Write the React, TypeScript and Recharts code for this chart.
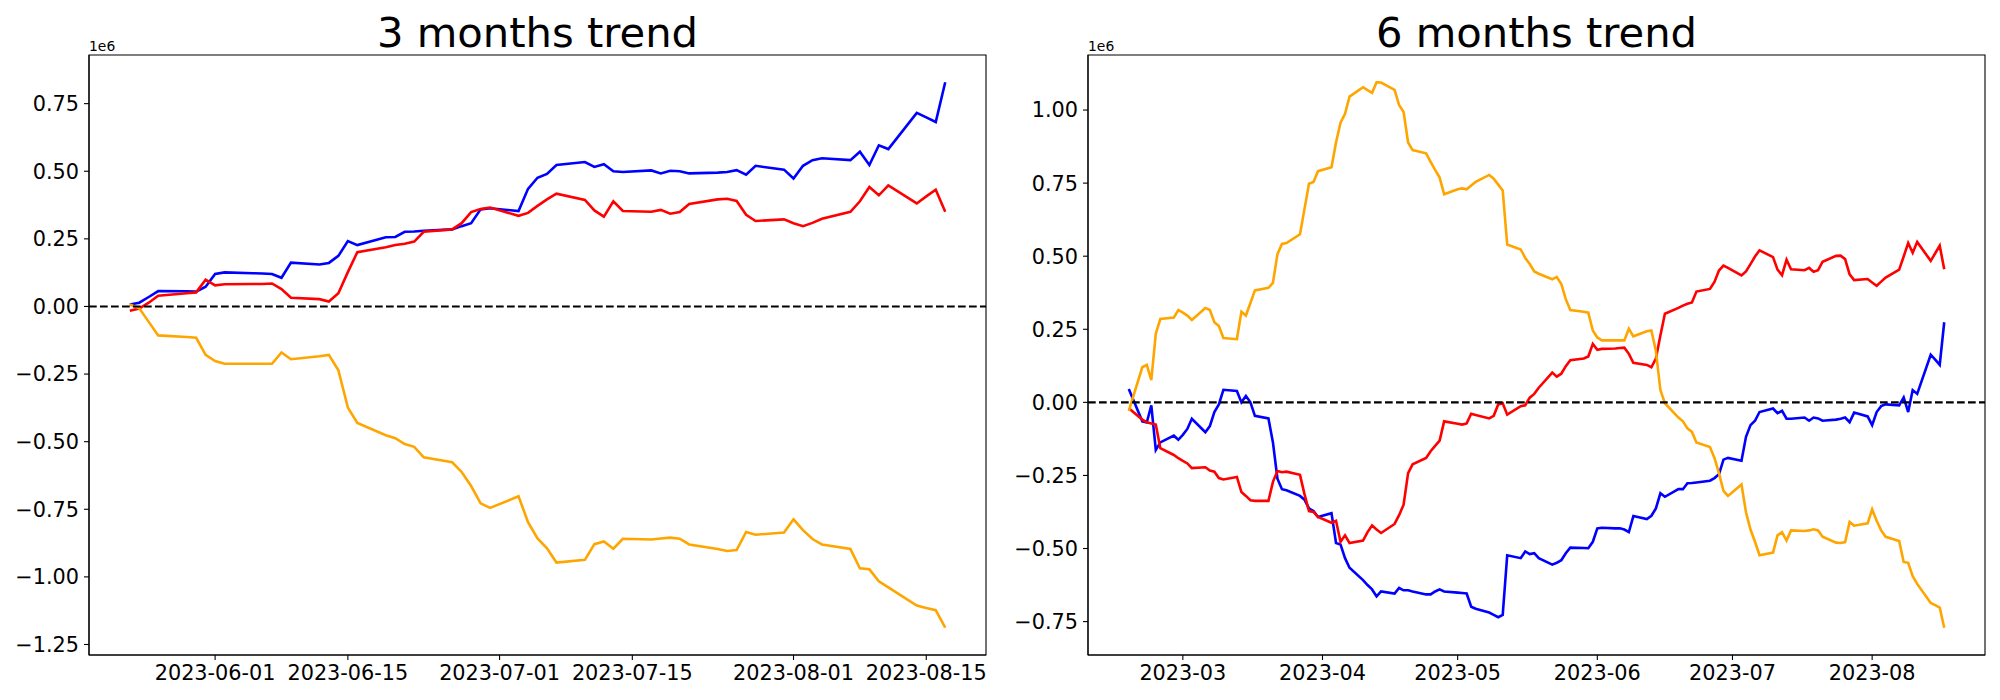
import React from 'react';
import { LineChart, Line, XAxis, YAxis, ReferenceLine, ReferenceArea } from 'recharts';

// ---------- 3 months panel ----------
const dates3m = [
  '2023-05-23','2023-05-24','2023-05-25','2023-05-26',
  '2023-05-29','2023-05-30','2023-05-31','2023-06-01','2023-06-02',
  '2023-06-05','2023-06-06','2023-06-07','2023-06-08','2023-06-09',
  '2023-06-12','2023-06-13','2023-06-14','2023-06-15','2023-06-16',
  '2023-06-19','2023-06-20','2023-06-21','2023-06-22','2023-06-23',
  '2023-06-26','2023-06-27','2023-06-28','2023-06-29','2023-06-30',
  '2023-07-03','2023-07-04','2023-07-05','2023-07-06','2023-07-07',
  '2023-07-10','2023-07-11','2023-07-12','2023-07-13','2023-07-14',
  '2023-07-17','2023-07-18','2023-07-19','2023-07-20','2023-07-21',
  '2023-07-24','2023-07-25','2023-07-26','2023-07-27','2023-07-28',
  '2023-07-31','2023-08-01','2023-08-02','2023-08-03','2023-08-04',
  '2023-08-07','2023-08-08','2023-08-09','2023-08-10','2023-08-11',
  '2023-08-14','2023-08-15','2023-08-16','2023-08-17',
];
const blue3m = [
  0.007, 0.014, 0.035, 0.057,
  0.056, 0.055, 0.073, 0.120, 0.126,
  0.123, 0.122, 0.120, 0.106, 0.162,
  0.155, 0.161, 0.187, 0.242, 0.227,
  0.256, 0.257, 0.276, 0.277, 0.280,
  0.285, 0.297, 0.308, 0.359, 0.363,
  0.353, 0.435, 0.476, 0.490, 0.523,
  0.534, 0.516, 0.526, 0.500, 0.497,
  0.503, 0.492, 0.502, 0.500, 0.492,
  0.495, 0.497, 0.504, 0.487, 0.520,
  0.506, 0.473, 0.520, 0.541, 0.548,
  0.541, 0.572, 0.523, 0.596, 0.582,
  0.716, 0.699, 0.682, 0.829,
];
const red3m = [
  -0.016, -0.008, 0.014, 0.040,
  0.049, 0.052, 0.099, 0.078, 0.082,
  0.083, 0.083, 0.085, 0.064, 0.032,
  0.027, 0.018, 0.049, 0.127, 0.201,
  0.219, 0.227, 0.232, 0.240, 0.276,
  0.285, 0.308, 0.349, 0.360, 0.366,
  0.335, 0.346, 0.372, 0.396, 0.417,
  0.394, 0.355, 0.332, 0.389, 0.353,
  0.350, 0.357, 0.343, 0.349, 0.379,
  0.396, 0.398, 0.390, 0.339, 0.316,
  0.322, 0.308, 0.297, 0.309, 0.324,
  0.350, 0.389, 0.442, 0.411, 0.448,
  0.381, 0.407, 0.432, 0.350,
];
const orange3m = [
  0.007, -0.007, -0.057, -0.107,
  -0.113, -0.116, -0.179, -0.202, -0.212,
  -0.212, -0.212, -0.212, -0.170, -0.195,
  -0.184, -0.179, -0.236, -0.374, -0.431,
  -0.476, -0.487, -0.509, -0.519, -0.558,
  -0.576, -0.612, -0.664, -0.728, -0.745,
  -0.702, -0.798, -0.858, -0.894, -0.947,
  -0.937, -0.879, -0.869, -0.896, -0.859,
  -0.862, -0.858, -0.855, -0.859, -0.880,
  -0.897, -0.904, -0.901, -0.834, -0.844,
  -0.836, -0.787, -0.827, -0.860, -0.880,
  -0.897, -0.968, -0.972, -1.016, -1.039,
  -1.106, -1.115, -1.123, -1.188,
];
const xTickLabels3m = ['2023-06-01', '2023-06-15', '2023-07-01', '2023-07-15', '2023-08-01', '2023-08-15'];
const yTicks3m = [-1.25, -1.0, -0.75, -0.5, -0.25, 0, 0.25, 0.5, 0.75];

// ---------- 6 months panel ----------
const dates6m = [
  '2023-02-17',
  '2023-02-20','2023-02-21','2023-02-22','2023-02-23','2023-02-24',
  '2023-02-27','2023-02-28','2023-03-01','2023-03-02','2023-03-03',
  '2023-03-06','2023-03-07','2023-03-08','2023-03-09','2023-03-10',
  '2023-03-13','2023-03-14','2023-03-15','2023-03-16','2023-03-17',
  '2023-03-20','2023-03-21','2023-03-22','2023-03-23','2023-03-24',
  '2023-03-27','2023-03-28','2023-03-29','2023-03-30','2023-03-31',
  '2023-04-03','2023-04-04','2023-04-05','2023-04-06','2023-04-07',
  '2023-04-10','2023-04-11','2023-04-12','2023-04-13','2023-04-14',
  '2023-04-17','2023-04-18','2023-04-19','2023-04-20','2023-04-21',
  '2023-04-24','2023-04-25','2023-04-26','2023-04-27','2023-04-28',
  '2023-05-01','2023-05-02','2023-05-03','2023-05-04','2023-05-05',
  '2023-05-08','2023-05-09','2023-05-10','2023-05-11','2023-05-12',
  '2023-05-15','2023-05-16','2023-05-17','2023-05-18','2023-05-19',
  '2023-05-22','2023-05-23','2023-05-24','2023-05-25','2023-05-26',
  '2023-05-29','2023-05-30','2023-05-31','2023-06-01','2023-06-02',
  '2023-06-05','2023-06-06','2023-06-07','2023-06-08','2023-06-09',
  '2023-06-12','2023-06-13','2023-06-14','2023-06-15','2023-06-16',
  '2023-06-19','2023-06-20','2023-06-21','2023-06-22','2023-06-23',
  '2023-06-26','2023-06-27','2023-06-28','2023-06-29','2023-06-30',
  '2023-07-03','2023-07-04','2023-07-05','2023-07-06','2023-07-07',
  '2023-07-10','2023-07-11','2023-07-12','2023-07-13','2023-07-14',
  '2023-07-17','2023-07-18','2023-07-19','2023-07-20','2023-07-21',
  '2023-07-24','2023-07-25','2023-07-26','2023-07-27','2023-07-28',
  '2023-07-31','2023-08-01','2023-08-02','2023-08-03','2023-08-04',
  '2023-08-07','2023-08-08','2023-08-09','2023-08-10','2023-08-11',
  '2023-08-14','2023-08-15','2023-08-16','2023-08-17',
];
const blue6m = [
  0.046,
  -0.065, -0.069, -0.010, -0.163, -0.137,
  -0.114, -0.128, -0.111, -0.091, -0.056,
  -0.102, -0.081, -0.033, -0.007, 0.043,
  0.039, 0.000, 0.022, 0.000, -0.046,
  -0.055, -0.137, -0.261, -0.297, -0.301,
  -0.320, -0.333, -0.363, -0.372, -0.392,
  -0.379, -0.481, -0.486, -0.533, -0.566,
  -0.608, -0.625, -0.640, -0.664, -0.647,
  -0.654, -0.635, -0.643, -0.643, -0.647,
  -0.657, -0.657, -0.647, -0.640, -0.647,
  -0.651, -0.652, -0.654, -0.699, -0.706,
  -0.719, -0.727, -0.735, -0.727, -0.523,
  -0.533, -0.510, -0.519, -0.516, -0.533,
  -0.555, -0.549, -0.540, -0.516, -0.497,
  -0.498, -0.499, -0.477, -0.431, -0.429,
  -0.431, -0.431, -0.435, -0.444, -0.389,
  -0.399, -0.388, -0.363, -0.311, -0.323,
  -0.297, -0.297, -0.277, -0.276, -0.274,
  -0.268, -0.259, -0.246, -0.196, -0.190,
  -0.200, -0.118, -0.078, -0.063, -0.033,
  -0.021, -0.037, -0.029, -0.056, -0.056,
  -0.052, -0.063, -0.052, -0.055, -0.063,
  -0.059, -0.056, -0.052, -0.068, -0.035,
  -0.048, -0.078, -0.033, -0.013, -0.007,
  -0.010, 0.017, -0.033, 0.042, 0.029,
  0.163, 0.146, 0.128, 0.274,
];
const red6m = [
  -0.020,
  -0.059, -0.068, -0.072, -0.076, -0.157,
  -0.180, -0.191, -0.200, -0.209, -0.225,
  -0.222, -0.233, -0.237, -0.259, -0.264,
  -0.255, -0.307, -0.320, -0.335, -0.337,
  -0.337, -0.272, -0.235, -0.239, -0.237,
  -0.248, -0.314, -0.372, -0.375, -0.392,
  -0.412, -0.405, -0.477, -0.455, -0.481,
  -0.473, -0.444, -0.421, -0.435, -0.447,
  -0.416, -0.386, -0.350, -0.242, -0.212,
  -0.190, -0.167, -0.149, -0.131, -0.065,
  -0.073, -0.076, -0.072, -0.039, -0.043,
  -0.055, -0.046, -0.007, -0.003, -0.042,
  -0.013, -0.010, 0.016, 0.029, 0.050,
  0.102, 0.088, 0.098, 0.124, 0.144,
  0.150, 0.157, 0.200, 0.180, 0.183,
  0.184, 0.186, 0.187, 0.166, 0.135,
  0.128, 0.120, 0.150, 0.229, 0.303,
  0.323, 0.331, 0.337, 0.342, 0.379,
  0.388, 0.412, 0.451, 0.468, 0.460,
  0.434, 0.448, 0.473, 0.499, 0.520,
  0.497, 0.454, 0.435, 0.488, 0.455,
  0.452, 0.460, 0.447, 0.452, 0.481,
  0.501, 0.502, 0.490, 0.438, 0.418,
  0.422, 0.410, 0.399, 0.413, 0.427,
  0.454, 0.499, 0.545, 0.512, 0.549,
  0.484, 0.510, 0.536, 0.455,
];
const orange6m = [
  -0.029,
  0.120, 0.128, 0.076, 0.235, 0.285,
  0.290, 0.316, 0.307, 0.297, 0.282,
  0.323, 0.316, 0.274, 0.261, 0.220,
  0.216, 0.310, 0.297, 0.340, 0.383,
  0.392, 0.409, 0.507, 0.542, 0.545,
  0.575, 0.661, 0.748, 0.754, 0.791,
  0.804, 0.889, 0.957, 0.987, 1.046,
  1.078, 1.068, 1.059, 1.095, 1.094,
  1.069, 1.017, 0.993, 0.889, 0.863,
  0.852, 0.823, 0.795, 0.769, 0.712,
  0.729, 0.732, 0.729, 0.742, 0.754,
  0.778, 0.765, 0.745, 0.725, 0.540,
  0.523, 0.494, 0.473, 0.448, 0.440,
  0.421, 0.429, 0.405, 0.353, 0.316,
  0.310, 0.307, 0.246, 0.222, 0.212,
  0.212, 0.212, 0.212, 0.252, 0.226,
  0.243, 0.246, 0.176, 0.042, -0.003,
  -0.052, -0.065, -0.089, -0.101, -0.137,
  -0.153, -0.190, -0.242, -0.303, -0.320,
  -0.281, -0.376, -0.435, -0.477, -0.523,
  -0.514, -0.455, -0.444, -0.473, -0.438,
  -0.440, -0.438, -0.434, -0.438, -0.460,
  -0.480, -0.481, -0.478, -0.409, -0.422,
  -0.414, -0.366, -0.405, -0.438, -0.460,
  -0.474, -0.546, -0.549, -0.595, -0.621,
  -0.686, -0.694, -0.702, -0.771,
];
const xTickLabels6m = ['2023-03-01', '2023-04-01', '2023-05-01', '2023-06-01', '2023-07-01', '2023-08-01'];
const yTicks6m = [-0.75, -0.5, -0.25, 0, 0.25, 0.5, 0.75, 1.0];

// ---------- helpers ----------
const FONT = 'DejaVu Sans';
const DAY = 86400000;
const toDay = (s: string) => Date.parse(s + 'T00:00:00Z') / DAY;
const fmtY = (v: number) => {
  const s = Math.abs(v).toFixed(2);
  return v < -1e-9 ? '\u2212' + s : s;
};
const fmtDate = (n: number) => new Date(Math.round(n) * DAY).toISOString().slice(0, 10);
const fmtMonth = (n: number) => new Date(Math.round(n) * DAY).toISOString().slice(0, 7);

function padded(vals: number[]): [number, number] {
  const mn = Math.min(...vals);
  const mx = Math.max(...vals);
  const r = mx - mn;
  return [mn - 0.05 * r, mx + 0.05 * r];
}

type PanelProps = {
  dates: string[];
  blue: number[];
  red: number[];
  orange: number[];
  xTickLabels: string[];
  xFmt: (n: number) => string;
  yTicks: number[];
  yAxisWidth: number;
  marginRight: number;
};

const LW = 2.6;

function Panel(p: PanelProps) {
  const data = p.dates.map((d, i) => ({ t: toDay(d), blue: p.blue[i], red: p.red[i], orange: p.orange[i] }));
  const xDom = padded(data.map((d) => d.t));
  const yDom = padded([...p.blue, ...p.red, ...p.orange]);
  const xTicks = p.xTickLabels.map(toDay);
  const tickStyle = { fill: '#000', fontSize: 20.8, fontFamily: FONT };
  return (
    <LineChart width={1000} height={700} data={data} margin={{ top: 55, right: p.marginRight, bottom: 0, left: 0 }}>
      <XAxis
        type="number"
        dataKey="t"
        domain={xDom}
        ticks={xTicks}
        tickFormatter={p.xFmt}
        allowDataOverflow
        interval={0}
        height={45}
        tickSize={5}
        tickMargin={5}
        tick={tickStyle}
        axisLine={{ stroke: '#000', strokeWidth: 1.1 }}
        tickLine={{ stroke: '#000', strokeWidth: 1.1 }}
      />
      <YAxis
        type="number"
        domain={yDom}
        ticks={p.yTicks}
        tickFormatter={fmtY}
        allowDataOverflow
        interval={0}
        width={p.yAxisWidth}
        tickSize={5}
        tickMargin={5}
        tick={tickStyle}
        axisLine={{ stroke: '#000', strokeWidth: 1.1 }}
        tickLine={{ stroke: '#000', strokeWidth: 1.1 }}
      />
      <ReferenceArea x1={xDom[0]} x2={xDom[1]} y1={yDom[0]} y2={yDom[1]} fill="none" fillOpacity={0} stroke="#000" strokeWidth={1.1} ifOverflow="visible" />
      <Line type="linear" dataKey="blue" stroke="#0000ff" strokeWidth={LW} dot={false} activeDot={false} isAnimationActive={false} />
      <Line type="linear" dataKey="red" stroke="#ff0000" strokeWidth={LW} dot={false} activeDot={false} isAnimationActive={false} />
      <Line type="linear" dataKey="orange" stroke="#ffa500" strokeWidth={LW} dot={false} activeDot={false} isAnimationActive={false} />
      <ReferenceLine y={0} stroke="#000" strokeWidth={2.1} strokeDasharray="7.7 3.3" />
    </LineChart>
  );
}

export default function App() {
  return (
    <div style={{ position: 'absolute', left: 0, top: 0, width: 2000, height: 700, background: '#fff', overflow: 'hidden' }}>
      <div style={{ position: 'absolute', left: 0, top: 0 }}>
        <Panel
          dates={dates3m}
          blue={blue3m}
          red={red3m}
          orange={orange3m}
          xTickLabels={xTickLabels3m}
          xFmt={fmtDate}
          yTicks={yTicks3m}
          yAxisWidth={89}
          marginRight={14}
        />
      </div>
      <div style={{ position: 'absolute', left: 1000, top: 0 }}>
        <Panel
          dates={dates6m}
          blue={blue6m}
          red={red6m}
          orange={orange6m}
          xTickLabels={xTickLabels6m}
          xFmt={fmtMonth}
          yTicks={yTicks6m}
          yAxisWidth={88}
          marginRight={15}
        />
      </div>
      <svg width={2000} height={700} style={{ position: 'absolute', left: 0, top: 0, pointerEvents: 'none' }}>
        <text x={537.5} y={46.5} textAnchor="middle" fontFamily={FONT} fontSize={41.7} fill="#000">3 months trend</text>
        <text x={1536.5} y={46.5} textAnchor="middle" fontFamily={FONT} fontSize={41.7} fill="#000">6 months trend</text>
        <text x={89} y={51} fontFamily={FONT} fontSize={13.9} fill="#000">1e6</text>
        <text x={1088} y={51} fontFamily={FONT} fontSize={13.9} fill="#000">1e6</text>
      </svg>
    </div>
  );
}
